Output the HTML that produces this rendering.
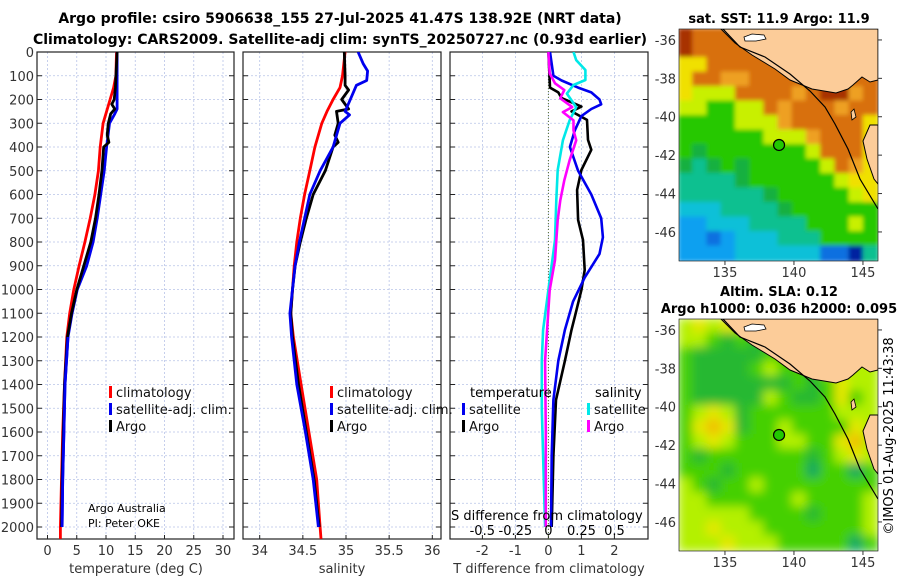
<!DOCTYPE html>
<html><head><meta charset="utf-8">
<style>
html,body{margin:0;padding:0;background:#fff;}
svg{display:block;font-family:"DejaVu Sans","Liberation Sans",sans-serif;}
</style></head>
<body>
<svg id="chart" width="900" height="580" viewBox="0 0 900 580" xmlns="http://www.w3.org/2000/svg">
<defs>
<clipPath id="cp1"><rect x="37" y="52" width="197" height="487"/></clipPath>
<clipPath id="cp2"><rect x="243" y="52" width="198" height="487"/></clipPath>
<clipPath id="cp3"><rect x="450" y="52" width="198" height="487"/></clipPath>
<clipPath id="cm1"><rect x="679" y="29" width="199" height="232"/></clipPath>
<clipPath id="cm2"><rect x="679" y="319" width="199" height="232"/></clipPath>
<filter id="bl1" x="-5%" y="-5%" width="110%" height="110%"><feGaussianBlur stdDeviation="2.2"/></filter>
<filter id="bl2" x="-5%" y="-5%" width="110%" height="110%"><feGaussianBlur stdDeviation="5"/></filter>
</defs>
<text x="340" y="23" font-size="14" font-weight="bold" text-anchor="middle">Argo profile: csiro 5906638_155 27-Jul-2025 41.47S 138.92E (NRT data)</text>
<text x="340" y="44" font-size="14" font-weight="bold" text-anchor="middle">Climatology: CARS2009. Satellite-adj clim: synTS_20250727.nc (0.93d earlier)</text>
<g id="g1"></g>
<g id="g2"></g>
<g id="g3"></g>
<g id="m1"></g>
<g id="m2"></g>
<text transform="translate(893,436) rotate(-90)" font-size="13" text-anchor="middle">©IMOS 01-Aug-2025 11:43:38</text>
</svg>
<script>
// ---- data ----
const depthTicks=[0,100,200,300,400,500,600,700,800,900,1000,1100,1200,1300,1400,1500,1600,1700,1800,1900,2000];
const tempTicks=[0,5,10,15,20,25,30];
const salTicks=[34,34.5,35,35.5,36];
const salTickLabels=["34","34.5","35","35.5","36"];
const dtTicks=[-2,-1,0,1,2];
const dsTicks=[-0.5,-0.25,0,0.25,0.5];
const dsTickLabels=["-0.5","-0.25","0","0.25","0.5"];

const tClimDepth=[0,100,150,200,300,400,500,600,700,800,900,1000,1100,1200,1400,1600,1800,2000,2050];
const tClimVal=[11.8,11.7,11.3,10.7,9.5,9.0,8.7,8.1,7.3,6.4,5.4,4.5,3.8,3.3,2.9,2.6,2.4,2.2,2.2];
const tSatDepth=[0,100,200,240,260,300,400,500,600,700,800,900,1000,1100,1200,1400,1600,1800,2000];
const tSatVal=[11.9,11.9,11.9,11.9,11.5,10.6,10.1,9.7,9.1,8.5,7.8,6.7,5.1,4.2,3.5,3.0,2.8,2.6,2.5];
const tArgoDepth=[0,150,200,220,240,260,300,350,380,400,500,600,700,800,900,1000,1100,1200,1400,1600,1800,2000];
const tArgoVal=[11.9,11.6,11.4,11.0,11.5,10.8,10.4,10.2,10.5,9.6,9.3,8.8,8.2,7.4,6.2,5.0,4.1,3.4,2.9,2.7,2.5,2.4];

const sClimDepth=[0,100,150,200,250,300,400,500,600,700,800,900,1000,1100,1200,1400,1600,1800,2000,2050];
const sClimVal=[34.99,34.96,34.93,34.85,34.78,34.72,34.64,34.58,34.52,34.47,34.43,34.40,34.38,34.36,34.39,34.48,34.57,34.66,34.70,34.71];
const sSatDepth=[0,50,80,120,140,200,250,265,300,400,500,600,700,800,900,1000,1100,1200,1400,1600,1800,2000];
const sSatVal=[35.14,35.20,35.25,35.24,35.12,35.05,34.99,35.04,34.93,34.85,34.70,34.58,34.52,34.46,34.41,34.38,34.35,34.37,34.43,34.53,34.62,34.68];
const sArgoDepth=[0,100,140,160,200,240,250,300,350,380,400,500,600,700,800,900,1000,1100,1200,1400,1600,1800,2000];
const sArgoVal=[34.98,34.99,34.99,35.03,34.95,35.03,34.89,34.91,34.87,34.91,34.85,34.76,34.62,34.54,34.47,34.41,34.38,34.36,34.38,34.45,34.54,34.63,34.69];

const dtSatDepth=[0,100,120,150,170,200,220,240,270,330,400,500,600,700,780,850,950,1050,1170,1300,1465,1700,2000];
const dtSatVal=[0.05,0.15,0.4,0.9,1.3,1.55,1.6,1.3,1.0,0.8,0.65,0.9,1.3,1.6,1.65,1.55,1.1,0.75,0.5,0.3,0.15,0.1,0.08];
const dtArgoDepth=[0,150,170,194,230,250,286,370,412,497,581,707,792,918,1002,1115,1170,1300,1465,1700,2000];
const dtArgoVal=[0.0,0.05,0.3,0.4,1.0,0.7,1.17,1.2,1.3,1.0,0.87,0.9,1.05,1.1,1.0,0.8,0.7,0.5,0.23,0.15,0.1];
const dsSatDepth=[0,34,76,118,139,175,232,288,372,497,624,792,960,1170,1300,1500,1700,2000];
const dsSatVal=[0.19,0.21,0.28,0.28,0.19,0.14,0.21,0.16,0.11,0.07,0.06,0.05,0.01,-0.04,-0.05,-0.05,-0.04,-0.025];
const dsArgoDepth=[0,90,132,160,195,232,253,288,330,372,456,540,624,707,876,1002,1170,1300,1600,2000];
const dsArgoVal=[0,0.01,0.05,0.12,0.09,0.18,0.11,0.19,0.19,0.21,0.16,0.12,0.09,0.07,0.05,0.01,-0.01,-0.025,-0.02,-0.02];

const mapLonTicks=[135,140,145];
const mapLatTicks=[-36,-38,-40,-42,-44,-46];
const argoLon=138.92, argoLat=-41.47;

// ---- helpers ----
const NS="http://www.w3.org/2000/svg";
function mk(parent,tag,attrs,txt){const e=document.createElementNS(NS,tag);for(const k in attrs)e.setAttribute(k,attrs[k]);if(txt!==undefined)e.textContent=txt;parent.appendChild(e);return e;}
const yD=d=>52+d*0.2375;
const xT=v=>47.5+5.85*v;
const xS=v=>259.7+86.3*(v-34);
const xDT=v=>548.4+33*v;
const xDS=v=>548.4+132.2*v;

function panel(g,x0,w,xs,ticks,labels,clip,leftLabels){
  const top=52,bot=539;
  ticks.forEach((t,i)=>{
    const l=mk(g,'line',{x1:xs(t),x2:xs(t),y1:top,y2:bot,stroke:'#b8c4e8','stroke-width':0.8,'stroke-dasharray':'2,2'});
    
    
    const tk=mk(g,'line',{x1:xs(t),x2:xs(t),y1:bot,y2:bot-4,stroke:'#222','stroke-width':1});
    
    
    if(labels){const tx=mk(g,'text',{x:xs(t),y:555,'font-size':13,'text-anchor':'middle',fill:'#333'},labels[i]);
      
      }
  });
  depthTicks.forEach(d=>{
    const l=mk(g,'line',{x1:x0,x2:x0+w,y1:yD(d),y2:yD(d),stroke:'#b8c4e8','stroke-width':0.8,'stroke-dasharray':'2,2'});
    
    
    mk(g,'line',{x1:x0,x2:x0+5,y1:yD(d),y2:yD(d),stroke:'#222'});
    mk(g,'line',{x1:x0+w,x2:x0+w-5,y1:yD(d),y2:yD(d),stroke:'#222'});
    if(leftLabels){const tx=mk(g,'text',{x:x0-3,y:yD(d)+5,'font-size':13,'text-anchor':'end',fill:'#333'},String(d));
      
      }
  });
  const fr=mk(g,'rect',{x:x0,y:top,width:w,height:bot-top,fill:'none',stroke:'#222','stroke-width':1.2});
  
  
}
function series(g,depths,vals,xs,color,name,clip,wd){
  const pts=depths.map((d,i)=>xs(vals[i]).toFixed(1)+','+yD(d).toFixed(1)).join(' ');
  const p=mk(g,'polyline',{points:pts,fill:'none',stroke:color,'stroke-width':wd||2.8,'stroke-linejoin':'round','clip-path':'url(#'+clip+')'});
  
  
}
function legendRow(g,x,y,color,label,name){
  mk(g,'rect',{x:x,y:y-11,width:3,height:12,fill:color});
  const t=mk(g,'text',{x:x+7,y:y,'font-size':13,fill:'#111'},label);
  
  
}

// ---- panel 1 ----
const g1=document.getElementById('g1');
panel(g1,37,197,xT,tempTicks,tempTicks.map(String),'cp1',true);
series(g1,tClimDepth,tClimVal,xT,'#f00','temp-climatology-line','cp1');
series(g1,tSatDepth,tSatVal,xT,'#0000ee','temp-satellite-line','cp1');
series(g1,tArgoDepth,tArgoVal,xT,'#000','temp-argo-line','cp1');
series(g1,tSatDepth.slice(-5),tSatVal.slice(-5),xT,'#0000ee','temp-satellite-line-deep','cp1');
legendRow(g1,109,397,'#f00','climatology','legend-climatology');
legendRow(g1,109,414,'#0000ee','satellite-adj. clim.','legend-satellite');
legendRow(g1,109,431,'#000','Argo','legend-argo');
mk(g1,'text',{x:88,y:512,'font-size':11},'Argo Australia');
mk(g1,'text',{x:88,y:527,'font-size':11},'PI: Peter OKE');
mk(g1,'text',{x:136,y:573,'font-size':13,'text-anchor':'middle',fill:'#333'},'temperature (deg C)');

// ---- panel 2 ----
const g2=document.getElementById('g2');
panel(g2,243,198,xS,salTicks,salTickLabels,'cp2',false);
series(g2,sClimDepth,sClimVal,xS,'#f00','sal-climatology-line','cp2');
series(g2,sArgoDepth,sArgoVal,xS,'#000','sal-argo-line','cp2');
series(g2,sSatDepth,sSatVal,xS,'#0000ee','sal-satellite-line','cp2');
legendRow(g2,330,397,'#f00','climatology','legend-climatology');
legendRow(g2,330,414,'#0000ee','satellite-adj. clim.','legend-satellite');
legendRow(g2,330,431,'#000','Argo','legend-argo');
mk(g2,'text',{x:342,y:573,'font-size':13,'text-anchor':'middle',fill:'#333'},'salinity');

// ---- panel 3 ----
const g3=document.getElementById('g3');
panel(g3,450,198,xDT,dtTicks,dtTicks.map(String),'cp3',false);
mk(g3,'line',{x1:xDT(0),x2:xDT(0),y1:52,y2:539,stroke:'#556b2f','stroke-width':1,'stroke-dasharray':'1,2'});
series(g3,dtArgoDepth,dtArgoVal,xDT,'#000','dt-argo-line','cp3',2.6);
series(g3,dtSatDepth,dtSatVal,xDT,'#0000ee','dt-satellite-line','cp3',2.6);
series(g3,dsSatDepth,dsSatVal,xDS,'#00e8e8','ds-satellite-line','cp3',2.6);
series(g3,dsArgoDepth,dsArgoVal,xDS,'#ff00ff','ds-argo-line','cp3',2.6);
mk(g3,'text',{x:470,y:397,'font-size':13},'temperature');
mk(g3,'text',{x:595,y:397,'font-size':13},'salinity');
legendRow(g3,462,414,'#0000ee','satellite','legend-t-satellite');
legendRow(g3,462,431,'#000','Argo','legend-t-argo');
legendRow(g3,587,414,'#00e8e8','satellite','legend-s-satellite');
legendRow(g3,587,431,'#ff00ff','Argo','legend-s-argo');
mk(g3,'text',{x:451,y:520,'font-size':13},'S difference from climatology');
dsTicks.forEach((t,i)=>{const tx=mk(g3,'text',{x:xDS(t),y:535,'font-size':13,'text-anchor':'middle'},dsTickLabels[i]);
  
  });
mk(g3,'text',{x:549,y:573,'font-size':13,'text-anchor':'middle',fill:'#333'},'T difference from climatology');

// ---- maps ----
const mLon=v=>679+(v-131.67)*13.8;
const C1={R:'#a83200',O:'#d87010',o:'#eea020',Y:'#f0e000',y:'#c8f000',G:'#28c800',g:'#18b040',T:'#10c090',C:'#10c0d8',B:'#10a0f0',b:'#1070e0',N:'#0020a0'};
const grid1=["ROOOORRROOOOOO","ROOOOOORRROOOO","YYOOOOOORRRROO","YOOooOOOORROOO","YyyyOOOOoORRoO","yyGGyyOoOOOoOO","GGGGyyyoOOOOOY","GGGGGGyyyoOOOY","GgGGGGGGGyOOOY","gTgGgGGGGGyOoY","TTTTgGGGGGGyYY","TTTTTTgGGGGGyY","CCCTTTTgGGGGGG","BBCCCTTTTGGGyG","BBbBCCCTTTGGGG","BBBBCCCCCCbbNT"];
const C2={G:'#44d000',g:'#28b830',y:'#b4f000',Y:'#e4e800',O:'#f0c000',d:'#10a860'};
const grid2=["yYyYyGGGGyyyyy","yyGgGgGGgGyyyy","GgggggGGGGyyyy","GggggGyGGgyyyy","GgggggggGgGYyy","GgggggyGggGYGy","GyYygGGGGGGyyy","GYOYgGGyGGGGYy","GyYyGGGyyGGYOy","GgGGGGGGGgGyYy","GGGgGGGGGdGGdG","yGgGGyGGGGGGGG","yyGGGGGGyGGGGy","yyyyyGGGGgGGGy","yyYyyyGGGGGGGy","yyyYyyyGGGGGdG"];
function drawMap(g,top,grid,cols,clip,filt){
  const cg=mk(g,'g',{'clip-path':'url(#'+clip+')'});
  const inner=mk(cg,'g',{filter:'url(#'+filt+')'});
  const cw=199/14, ch=232/16;
  grid.forEach((row,r)=>{[...row].forEach((c,k)=>{
    mk(inner,'rect',{x:(679+k*cw-1).toFixed(1),y:(top+r*ch-1).toFixed(1),width:(cw+2).toFixed(1),height:(ch+2).toFixed(1),fill:cols[c]});
  });});
  const land=mk(cg,'path',{d:`M721,${top} L735,${top+14} L752,${top+26} L775,${top+40} L790,${top+51} L812,${top+60} L836,${top+64} L848,${top+60} L853,${top+56} L862,${top+48} L870,${top+53} L878,${top+51} L878,${top} Z M870,${top+96} L878,${top+96} L878,${top+155} L874,${top+150} L867,${top+130} L863,${top+112} Z`,fill:'#fccc99',stroke:'#000','stroke-width':1});
  
  
  mk(cg,'path',{d:`M744,${top+8} L752,${top+5} L764,${top+6} L766,${top+10} L756,${top+12} L745,${top+12} Z`,fill:'#fff',stroke:'#000','stroke-width':0.8});
  mk(cg,'path',{d:`M851,${top+83} L854,${top+80} L856,${top+88} L852,${top+91} Z`,fill:'#fccc99',stroke:'#000','stroke-width':0.8});
  const sh=mk(cg,'path',{d:`M723,${top} L740,${top+18} L765,${top+28} L790,${top+45} L810,${top+62} L825,${top+78} L835,${top+95} L848,${top+120} L860,${top+150} L872,${top+170} L878,${top+180}`,fill:'none',stroke:'#000','stroke-width':1.2});
  
  
  const mkr=mk(g,'circle',{cx:mLon(argoLon),cy:top+(-35.43-argoLat)*19.2,r:5.5,fill:'#22c800',stroke:'#000','stroke-width':1.2});
  
  
  mk(g,'rect',{x:679,y:top,width:199,height:232,fill:'none',stroke:'#000','stroke-width':0.6});
  mapLonTicks.forEach(v=>{
    const t=mk(g,'text',{x:mLon(v),y:top+248,'font-size':13,'text-anchor':'middle',fill:'#333'},String(v));
    
    
    mk(g,'line',{x1:mLon(v),x2:mLon(v),y1:top+232,y2:top+236,stroke:'#333'});
  });
  mapLatTicks.forEach(v=>{
    const y=top+(-35.43-v)*19.2;
    const t=mk(g,'text',{x:676,y:y+5,'font-size':13,'text-anchor':'end',fill:'#333'},String(v));
    
    
    mk(g,'line',{x1:878,x2:882,y1:y,y2:y,stroke:'#333'});
  });
}
drawMap(document.getElementById('m1'),29,grid1,C1,'cm1','bl1');
drawMap(document.getElementById('m2'),319,grid2,C2,'cm2','bl2');
const m1=document.getElementById('m1'), m2=document.getElementById('m2');
mk(m1,'text',{x:779,y:23,'font-size':13,'font-weight':'bold','text-anchor':'middle'},'sat. SST: 11.9 Argo: 11.9');
mk(m2,'text',{x:779,y:296,'font-size':13,'font-weight':'bold','text-anchor':'middle'},'Altim. SLA: 0.12');
mk(m2,'text',{x:779,y:313,'font-size':13,'font-weight':'bold','text-anchor':'middle'},'Argo h1000: 0.036 h2000: 0.095');
</script>
</body></html>
